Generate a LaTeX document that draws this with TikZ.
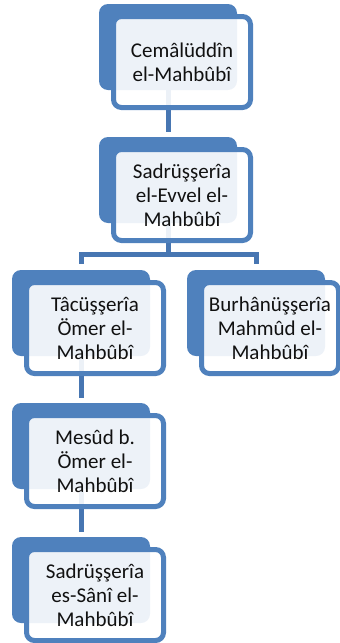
\documentclass[tikz,border=0pt]{standalone}
\usepackage{fontspec}
\setmainfont{Carlito}
\definecolor{accent}{HTML}{4F81BD}
\definecolor{linkblue}{HTML}{4776B2}
\definecolor{txt}{HTML}{111111}
\tikzset{
  backbox/.style={rectangle, rounded corners=9pt, fill=accent, draw=none,
    minimum width=138pt, minimum height=86pt, inner sep=0pt},
  frontbox/.style={rectangle, rounded corners=8pt, draw=accent, line width=5pt,
    fill=white, fill opacity=0.9, text opacity=1, text=txt,
    minimum width=137pt, minimum height=91pt, inner sep=0pt, align=center,
    font=\fontsize{21}{24}\selectfont},
  link/.style={draw=linkblue, line width=5pt}
}
\begin{document}
\begin{tikzpicture}[x=1pt, y=-1pt]
\useasboundingbox (0,0) rectangle (340,643);
% back boxes
\node[backbox] (b1) at (168,47) {};
\node[backbox] (b2) at (168,180) {};
\node[backbox] (b3) at (81,313) {};
\node[backbox] (b4) at (256,313) {};
\node[backbox] (b5) at (81,446) {};
\node[backbox] (b6) at (81,580) {};
% connectors
\draw[link, shorten >=5pt] (b1.south) -- (b2.north);
\draw[link, shorten >=6pt] (b2.south) -- ++(0,31) -| (b3.north);
\draw[link, shorten >=6pt] (b2.south) -- ++(0,31) -| (b4.north);
\draw[link, shorten >=5pt] (b3.south) -- (b5.north);
\draw[link, shorten >=5pt] (b5.south) -- (b6.north);
% front boxes
\node[frontbox] (f1) at ([shift={(14,15)}]b1.center) {Cemâlüddîn\\el-Mahbûbî};
\node[frontbox] (f2) at ([shift={(14,15)}]b2.center) {Sadrüşşerîa\\el-Evvel el-\\Mahbûbî};
\node[frontbox] (f3) at ([shift={(14,15)}]b3.center) {Tâcüşşerîa\\Ömer el-\\Mahbûbî};
\node[frontbox] (f4) at ([shift={(14,15)}]b4.center) {Burhânüşşerîa\\Mahmûd el-\\Mahbûbî};
\node[frontbox] (f5) at ([shift={(14,15)}]b5.center) {Mesûd b.\\Ömer el-\\Mahbûbî};
\node[frontbox] (f6) at ([shift={(14,15)}]b6.center) {Sadrüşşerîa\\es-Sânî el-\\Mahbûbî};
\end{tikzpicture}
\end{document}
